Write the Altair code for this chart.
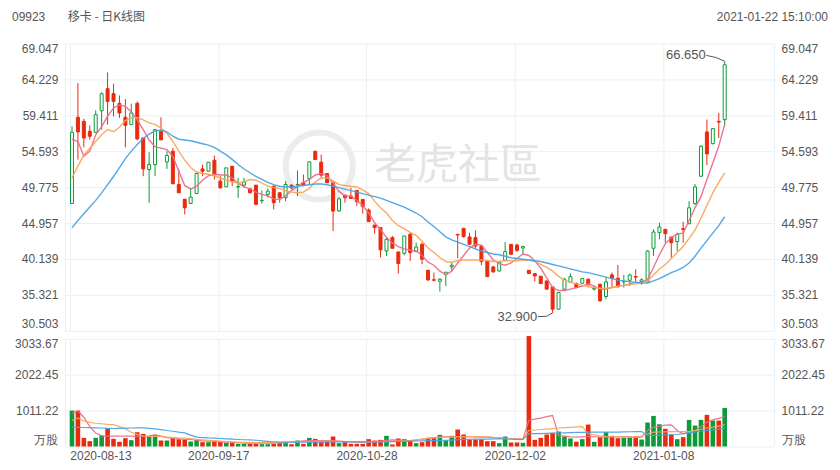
import altair as alt
import pandas as pd

# ---------------- data ----------------
title_code = "09923"
title_name = "移卡 - 日K线图"
title_time = "2021-01-22 15:10:00"
watermark = "老虎社區"
vol_unit = "万股"

tick_idx = [0, 25, 50, 75, 100]
tick_labels = ["2020-08-13", "2020-09-17", "2020-10-28", "2020-12-02", "2021-01-08"]
price_ticks = [30.503, 35.321, 40.139, 44.957, 49.775, 54.593, 59.411, 64.229, 69.047]
vol_ticks = [0, 1011.22, 2022.45, 3033.67]

opens = [47.58, 59.14, 58.60, 57.27, 57.13, 60.03, 62.98, 62.31, 61.01, 59.14,
         58.16, 61.01, 56.37, 52.14, 52.80, 57.27, 53.16, 54.59, 50.13, 48.16,
         47.58, 48.92, 52.22, 51.91, 53.38, 50.57, 49.82, 52.58, 49.80, 50.04,
         49.55, 50.04, 47.95, 48.79, 49.91, 49.02, 48.35, 50.04, 50.10, 50.36,
         50.94, 54.59, 53.12, 51.60, 50.36, 46.60, 48.71, 48.57, 49.33, 48.13,
         46.70, 44.69, 44.34, 41.21, 43.00, 41.08, 40.90, 43.44, 41.12, 42.11,
         38.63, 37.35, 37.15, 38.09, 39.07, 43.44, 44.25, 43.09, 43.00, 41.88,
         39.87, 39.07, 38.53, 39.96, 42.10, 42.00, 41.60, 38.62, 38.17, 37.82,
         37.19, 36.39, 33.40, 36.08, 37.00, 36.83, 36.88, 37.41, 36.10, 36.75,
         35.10, 38.00, 37.55, 37.06, 37.28, 37.78, 37.10, 37.06, 41.57, 43.66,
         44.11, 43.08, 42.46, 44.20, 44.87, 47.55, 51.24, 57.18, 55.61, 58.60,
         58.83]
highs = [57.93, 63.73, 58.96, 58.07, 60.08, 62.48, 65.16, 63.64, 62.08, 61.59,
         60.97, 61.28, 56.37, 54.45, 57.58, 59.14, 54.59, 55.03, 52.22, 48.16,
         49.68, 51.69, 52.80, 53.12, 54.01, 51.24, 52.36, 52.58, 51.02, 51.02,
         49.69, 50.04, 49.33, 49.60, 49.91, 49.02, 50.58, 50.13, 52.01, 51.47,
         53.17, 54.59, 54.15, 51.60, 50.36, 48.45, 48.71, 49.69, 49.33, 48.13,
         46.92, 44.69, 44.34, 43.00, 43.22, 41.08, 43.22, 43.67, 42.33, 42.33,
         38.63, 38.31, 37.56, 38.36, 39.61, 43.44, 44.25, 43.67, 43.98, 41.88,
         39.87, 39.20, 39.87, 42.41, 42.10, 42.20, 41.90, 38.62, 38.17, 37.82,
         37.19, 36.39, 35.63, 37.60, 38.20, 37.00, 37.60, 37.50, 36.50, 36.75,
         37.64, 38.31, 39.33, 38.00, 38.17, 38.75, 37.55, 41.30, 44.11, 45.00,
         44.11, 43.08, 43.66, 45.13, 47.90, 50.20, 55.39, 58.83, 57.70, 59.72,
         66.65]
lows = [47.58, 53.47, 55.12, 56.15, 57.04, 57.49, 58.16, 59.27, 59.05, 55.12,
        58.16, 56.06, 51.24, 47.67, 51.24, 56.11, 52.22, 50.22, 49.01, 46.11,
        47.58, 48.92, 51.24, 51.91, 50.80, 49.59, 49.82, 49.90, 48.34, 49.69,
        48.93, 47.37, 47.55, 48.35, 46.79, 47.68, 47.90, 49.46, 48.57, 49.91,
        50.13, 53.39, 51.02, 50.36, 43.89, 46.45, 47.68, 48.26, 47.24, 46.21,
        45.14, 43.53, 40.32, 40.54, 41.57, 38.18, 40.63, 39.88, 41.12, 39.43,
        37.20, 37.11, 35.77, 36.53, 38.54, 40.23, 43.00, 42.02, 41.44, 39.30,
        37.77, 38.30, 38.44, 39.87, 40.76, 41.10, 40.80, 38.17, 37.10, 36.84,
        36.08, 32.90, 33.40, 36.00, 36.90, 36.20, 36.80, 36.60, 35.90, 34.40,
        34.74, 36.30, 36.39, 36.30, 36.52, 36.97, 36.66, 36.97, 40.54, 42.77,
        42.32, 40.32, 41.21, 42.32, 44.78, 47.40, 51.11, 52.72, 55.50, 56.37,
        57.93]
closes = [57.13, 57.18, 56.37, 56.60, 59.50, 62.31, 61.28, 61.28, 59.72, 58.07,
          59.72, 56.24, 52.22, 52.80, 57.49, 56.11, 54.01, 50.22, 49.01, 47.00,
          48.43, 51.60, 51.91, 53.12, 51.47, 49.68, 52.36, 50.57, 49.85, 50.44,
          49.02, 47.46, 48.00, 49.24, 47.68, 48.35, 50.13, 49.69, 50.13, 50.04,
          53.17, 53.48, 51.38, 50.36, 46.56, 48.20, 48.35, 48.26, 47.82, 47.15,
          45.14, 44.34, 41.35, 42.77, 41.57, 39.52, 43.22, 40.99, 41.75, 40.10,
          37.33, 37.29, 37.42, 38.36, 39.30, 43.35, 43.13, 42.11, 41.88, 39.79,
          37.77, 38.40, 39.73, 41.12, 40.76, 41.30, 41.80, 38.17, 37.86, 36.84,
          36.08, 33.40, 35.63, 37.41, 37.77, 36.30, 37.50, 36.66, 36.20, 34.52,
          37.06, 37.55, 36.39, 37.10, 37.99, 37.70, 37.33, 41.21, 43.75, 44.42,
          43.53, 42.32, 43.44, 44.10, 47.00, 49.80, 55.26, 54.23, 57.62, 58.50,
          66.19]

ma5 = [56.2, 55.9, 53.9, 54.6, 56.8, 57.9, 59.3, 60.4, 60.8, 60.6,
       59.9, 58.8, 57.5, 56.1, 55.2, 55.0, 54.8, 53.9, 51.9, 50.0,
       49.5, 49.9, 50.7, 51.3, 51.5, 51.4, 51.4, 51.0, 50.3, 49.8,
       49.5, 49.1, 48.8, 48.6, 48.2, 48.1, 48.6, 49.3, 49.9, 50.4,
       50.8, 51.4, 51.6, 51.3, 50.3, 49.2, 48.6, 48.6, 48.0, 47.3,
       46.3, 45.0, 44.1, 43.0, 42.3, 41.8, 41.5, 41.3, 41.2, 40.6,
       39.7, 39.3, 38.5, 38.0, 38.5, 39.6, 40.6, 41.6, 42.1, 42.0,
       41.0, 40.0, 39.5, 39.3, 39.6, 40.2, 40.8, 40.6, 39.9, 38.9,
       37.6, 36.3, 35.9, 35.9, 36.1, 36.3, 36.5, 36.8, 36.5, 36.1,
       36.1, 36.3, 36.5, 36.6, 36.8, 37.0, 37.0, 37.4, 39.0, 40.7,
       42.2, 43.0, 43.5, 43.6, 45.3, 47.0, 48.5, 50.8, 53.0, 55.3,
       58.2]
ma10 = [51.0, 52.6, 54.1, 55.0, 55.9, 56.8, 57.5, 57.2, 57.8, 58.7,
        59.1, 59.1, 58.8, 58.4, 58.2, 57.7, 57.0, 55.9, 54.6, 53.4,
        52.4, 51.8, 51.6, 51.5, 51.3, 51.0, 50.7, 50.5, 50.3, 50.5,
        50.8, 50.7, 50.3, 49.9, 49.7, 49.6, 49.3, 49.1, 49.0, 49.1,
        49.6, 50.5, 51.0, 51.0, 50.6, 50.1, 50.0, 49.9, 49.8, 49.4,
        48.9, 47.9, 47.0, 46.3, 45.3, 44.6, 44.2, 43.7, 43.3, 42.5,
        41.6, 41.0, 40.3, 39.8, 39.7, 39.9, 40.0, 40.0, 40.0, 40.0,
        39.9, 39.8, 39.8, 39.9, 39.9, 39.9, 40.0, 40.0, 39.8, 39.4,
        39.0, 38.5, 37.8, 37.3, 37.0, 36.8, 36.6, 36.4, 36.3, 36.2,
        36.2, 36.3, 36.5, 36.6, 36.7, 36.8, 36.9, 37.2, 38.0, 38.8,
        39.4, 40.2, 41.0, 41.8, 42.9, 44.0, 45.6, 47.3, 49.0, 50.4,
        51.7]
ma20 = [44.3, 45.3, 46.2, 47.1, 48.0, 49.0, 50.1, 51.2, 52.4, 53.6,
        54.6, 55.5, 56.3, 56.9, 57.3, 57.4, 57.2, 56.6, 56.2, 56.1,
        56.0, 55.8, 55.6, 55.4, 55.1, 54.6, 54.1, 53.5, 52.8, 52.2,
        51.7, 51.2, 50.8, 50.4, 50.1, 49.9, 49.8, 49.8, 49.9, 50.0,
        50.1, 50.2, 50.2, 50.1, 49.9, 49.7, 49.5, 49.3, 49.1, 48.9,
        48.7, 48.5, 48.3, 48.0, 47.7, 47.4, 47.1, 46.7, 46.3, 45.8,
        45.1, 44.5, 43.8, 43.1, 42.7, 42.4, 42.1, 41.8, 41.5, 41.2,
        41.0, 40.8, 40.7, 40.5, 40.3, 40.2, 40.1, 40.0, 39.9, 39.8,
        39.6, 39.4, 39.2, 39.0, 38.8, 38.6, 38.4, 38.3, 38.1, 37.9,
        37.7, 37.5, 37.3, 37.2, 37.1, 37.0, 36.9, 36.9, 37.2, 37.5,
        37.9, 38.3, 38.6, 39.0, 39.6, 40.5, 41.6, 42.6, 43.6, 44.6,
        45.8]

volume = [1011, 1011, 243, 150, 243, 309, 515, 215, 131, 234,
          178, 402, 356, 281, 328, 168, 168, 243, 206, 187,
          140, 187, 122, 122, 131, 140, 103, 103, 75, 75,
          75, 75, 65, 65, 75, 94, 131, 65, 168, 75,
          243, 215, 150, 150, 281, 94, 150, 75, 75, 75,
          206, 168, 187, 300, 56, 225, 206, 169, 94, 122,
          244, 262, 328, 169, 300, 478, 337, 197, 197, 206,
          150, 150, 94, 281, 112, 112, 103, 3110, 187, 244,
          337, 384, 421, 281, 225, 131, 206, 618, 131, 262,
          403, 300, 234, 244, 262, 281, 197, 674, 861, 627,
          496, 337, 206, 262, 749, 590, 749, 890, 730, 730,
          1086]
vma5 = [936, 1000, 824, 560, 380, 300, 290, 290, 290, 290,
        290, 285, 281, 300, 328, 290, 250, 235, 215, 200,
        197, 180, 160, 150, 140, 130, 122, 115, 105, 97,
        94, 94, 94, 94, 97, 100, 103, 120, 140, 160,
        168, 168, 168, 168, 160, 150, 140, 125, 115, 112,
        112, 130, 150, 170, 187, 180, 168, 169, 180, 200,
        230, 250, 265, 275, 280, 281, 280, 275, 270, 265,
        262, 250, 240, 230, 220, 215, 215, 740, 770, 800,
        840, 871, 309, 290, 270, 262, 270, 281, 275, 268,
        262, 268, 275, 281, 270, 250, 260, 450, 540, 570,
        600, 609, 450, 356, 400, 450, 560, 684, 749, 790,
        843]
vma10 = [730, 805, 712, 680, 655, 640, 625, 618, 560, 496,
         400, 340, 295, 285, 283, 281, 265, 250, 240, 234,
         220, 200, 187, 175, 163, 150, 140, 132, 125, 118,
         115, 113, 112, 114, 116, 118, 120, 122, 128, 135,
         140, 145, 150, 150, 148, 142, 137, 133, 131, 131,
         133, 136, 140, 140, 140, 150, 160, 169, 190, 210,
         230, 245, 255, 262, 265, 268, 272, 276, 280, 281,
         275, 260, 245, 230, 220, 215, 215, 450, 465, 478,
         490, 505, 520, 530, 540, 552, 562, 356, 330, 300,
         281, 275, 268, 265, 262, 262, 300, 360, 403, 408,
         412, 416, 419, 421, 421, 450, 485, 520, 543, 575,
         609]
vma20 = [543, 540, 535, 530, 525, 520, 512, 506, 510, 515,
         520, 524, 524, 510, 495, 475, 450, 430, 405, 384,
         320, 262, 250, 240, 234, 225, 215, 205, 197, 190,
         187, 175, 160, 145, 133, 122, 122, 122, 122, 122,
         122, 122, 124, 126, 128, 131, 131, 131, 131, 131,
         131, 131, 131, 133, 136, 140, 145, 150, 155, 160,
         165, 168, 169, 175, 182, 190, 198, 204, 206, 208,
         210, 212, 214, 215, 210, 200, 197, 356, 360, 365,
         370, 375, 380, 385, 390, 395, 400, 403, 403, 403,
         403, 403, 403, 410, 415, 421, 421, 309, 315, 320,
         325, 330, 337, 360, 385, 410, 430, 450, 470, 490,
         515]

# ---------------- styling ----------------
RED = "#ea2a0e"
GREEN = "#0c9b38"
PINK = "#ec6d8a"
ORANGE = "#fba55c"
BLUE = "#4aa3e3"
GRID = "#e8f0f6"
TXT = "#555555"
FONT = "Liberation Sans"
CJK = "Noto Sans CJK SC"

W, HP, HV = 711, 288, 108
OFF = 0.36          # slot start -> candle centre offset
SLOT = 6.033        # px per trading day
XDOM = [-OFF, -OFF + W / SLOT]

n = len(closes)
idx = list(range(n))
df = pd.DataFrame({"i": idx, "open": opens, "high": highs, "low": lows,
                   "close": closes, "vol": volume})
df["up"] = df["close"] >= df["open"]
df["top"] = df[["open", "close"]].max(axis=1)
df["bot"] = df[["open", "close"]].min(axis=1)

ma_df = pd.DataFrame({"i": idx * 3, "v": ma5 + ma10 + ma20,
                      "s": ["MA5"] * n + ["MA10"] * n + ["MA20"] * n})
vma_df = pd.DataFrame({"i": idx * 3, "v": vma5 + vma10 + vma20,
                       "s": ["MA5"] * n + ["MA10"] * n + ["MA20"] * n})
ma_color = alt.Color("s:N", scale=alt.Scale(domain=["MA5", "MA10", "MA20"],
                                            range=[PINK, ORANGE, BLUE]), legend=None)

grid_vals = [t - OFF for t in tick_idx]
label_expr = "".join(f"datum.value < {t - OFF + 1} ? '{lab}' : "
                     for t, lab in zip(tick_idx, tick_labels)) + "''"
first_align = {"condition": {"test": f"datum.value < {grid_vals[0] + 0.5}", "value": "left"},
               "value": "center"}
xscale = alt.Scale(domain=XDOM, nice=False, zero=False)


def xp(field):
    return alt.X(f"{field}:Q", scale=xscale,
                 axis=alt.Axis(values=grid_vals, labels=False, ticks=False, domain=False,
                               grid=True, gridColor=GRID, title=None))


def xv(field):
    return alt.X(f"{field}:Q", scale=xscale,
                 axis=alt.Axis(values=grid_vals, labelExpr=label_expr, labelAlign=first_align,
                               ticks=False, domain=False, grid=True, gridColor=GRID,
                               labelPadding=4, title=None))


yscale = alt.Scale(domain=[price_ticks[0], price_ticks[-1]], nice=False, zero=False)
vscale = alt.Scale(domain=[vol_ticks[0], vol_ticks[-1]], nice=False, zero=False)


def yaxis(orient, values, grid, fmt=None, expr=None):
    kw = dict(orient=orient, values=values, labelFlush=True, ticks=False, domain=True,
              domainColor=GRID, grid=grid, gridColor=GRID, labelPadding=7, title=None)
    if fmt:
        kw["format"] = fmt
    if expr:
        kw["labelExpr"] = expr
    return alt.Axis(**kw)


up_color = alt.condition("datum.up", alt.value(GREEN), alt.value(RED))
one = pd.DataFrame({"a": [0]})

# ---------------- price panel ----------------
wm_circle = alt.Chart(one).mark_point(shape="circle", size=4536, filled=False,
                                      strokeWidth=6, color="#ececec", opacity=1).encode(
    x=alt.value(255), y=alt.value(123))
wm_text = alt.Chart(pd.DataFrame({"t": [watermark]})).mark_text(
    align="left", baseline="middle", font="Noto Sans CJK TC", fontSize=42,
    color="#e4e4e4").encode(text="t:N", x=alt.value(310), y=alt.value(123))

wick = alt.Chart(df).mark_rule(strokeWidth=1).encode(
    x=xp("i"),
    y=alt.Y("low:Q", scale=yscale, axis=yaxis("left", price_ticks, True, fmt=".3f")),
    y2="high:Q", color=up_color)
body_dn = alt.Chart(df).transform_filter("!datum.up").mark_bar(
    size=3, fill=RED, stroke=RED, strokeWidth=1).encode(
    x=xp("i"), y=alt.Y("top:Q", scale=yscale, axis=None), y2="bot:Q")
body_up = alt.Chart(df).transform_filter("datum.up").mark_bar(
    size=3, fill="white", stroke=GREEN, strokeWidth=1).encode(
    x=xp("i"), y=alt.Y("top:Q", scale=yscale, axis=None), y2="bot:Q")
lines = alt.Chart(ma_df).mark_line(strokeWidth=1.4, opacity=0.95).encode(
    x=xp("i"), y=alt.Y("v:Q", scale=yscale, axis=None), color=ma_color)

hi_i = highs.index(max(highs)); hi_v = highs[hi_i]
lo_i = lows.index(min(lows)); lo_v = lows[lo_i]
lead_hi = alt.Chart(pd.DataFrame({"x": [hi_i, hi_i - 1.4, hi_i - 3.1],
                                  "y": [hi_v, hi_v + 0.5, hi_v + 0.8]})).mark_line(
    color="#555", strokeWidth=1).encode(x=xp("x"), y=alt.Y("y:Q", scale=yscale, axis=None))
text_hi = alt.Chart(pd.DataFrame({"x": [hi_i - 3.2], "y": [hi_v + 0.8],
                                  "t": [f"{hi_v:.3f}"]})).mark_text(
    align="right", baseline="middle", font=FONT, fontSize=13, color=TXT).encode(
    x=xp("x"), y=alt.Y("y:Q", scale=yscale, axis=None), text="t:N")
lead_lo = alt.Chart(pd.DataFrame({"x": [lo_i, lo_i - 1.0, lo_i - 2.5],
                                  "y": [lo_v, lo_v - 0.45, lo_v - 0.5]})).mark_line(
    color="#555", strokeWidth=1).encode(x=xp("x"), y=alt.Y("y:Q", scale=yscale, axis=None))
text_lo = alt.Chart(pd.DataFrame({"x": [lo_i - 2.6], "y": [lo_v - 0.5],
                                  "t": [f"{lo_v:.3f}"]})).mark_text(
    align="right", baseline="middle", font=FONT, fontSize=13, color=TXT).encode(
    x=xp("x"), y=alt.Y("y:Q", scale=yscale, axis=None), text="t:N")
right_p = alt.Chart(df).mark_point(opacity=0).encode(
    x=xp("i"),
    y=alt.Y("close:Q", scale=yscale, axis=yaxis("right", price_ticks, False, fmt=".3f")))

head1 = alt.Chart(pd.DataFrame({"t": [title_code]})).mark_text(
    align="left", baseline="top", font=FONT, fontSize=12, color=TXT).encode(
    text="t:N", x=alt.value(-53), y=alt.value(-32))
head2 = alt.Chart(pd.DataFrame({"t": [title_name]})).mark_text(
    align="left", baseline="top", font=CJK, fontSize=12, color=TXT).encode(
    text="t:N", x=alt.value(3), y=alt.value(-32))
head3 = alt.Chart(pd.DataFrame({"t": [title_time]})).mark_text(
    align="right", baseline="top", font=FONT, fontSize=12, color=TXT).encode(
    text="t:N", x=alt.value(765), y=alt.value(-32))

price = alt.layer(wm_circle, wm_text, wick, body_dn, body_up, lines,
                  lead_hi, text_hi, lead_lo, text_lo, right_p,
                  head1, head2, head3).resolve_axis(y="independent").properties(
    width=W, height=HP)

# ---------------- volume panel ----------------
vexpr = f"datum.value == 0 ? '{vol_unit}' : format(datum.value, '.2f')"
vbars = alt.Chart(df).mark_bar(size=4.6).encode(
    x=xv("i"),
    y=alt.Y("vol:Q", scale=vscale, axis=yaxis("left", vol_ticks, True, expr=vexpr)),
    color=up_color)
vlines = alt.Chart(vma_df).mark_line(strokeWidth=1.2, opacity=0.95).encode(
    x=xv("i"), y=alt.Y("v:Q", scale=vscale, axis=None), color=ma_color)
right_v = alt.Chart(df).mark_point(opacity=0).encode(
    x=xv("i"),
    y=alt.Y("vol:Q", scale=vscale, axis=yaxis("right", vol_ticks, False, expr=vexpr)))

vol_panel = alt.layer(vbars, vlines, right_v).resolve_axis(y="independent").properties(
    width=W, height=HV)

chart = alt.vconcat(price, vol_panel, spacing=8, bounds="flush").properties(
    padding={"left": 4, "top": 2, "right": 4, "bottom": 4}
).configure_view(stroke=None).configure_axis(
    labelFont=FONT, labelColor=TXT, labelFontSize=12)

chart.save("out.html", embed_options={"renderer": "svg", "actions": False})
